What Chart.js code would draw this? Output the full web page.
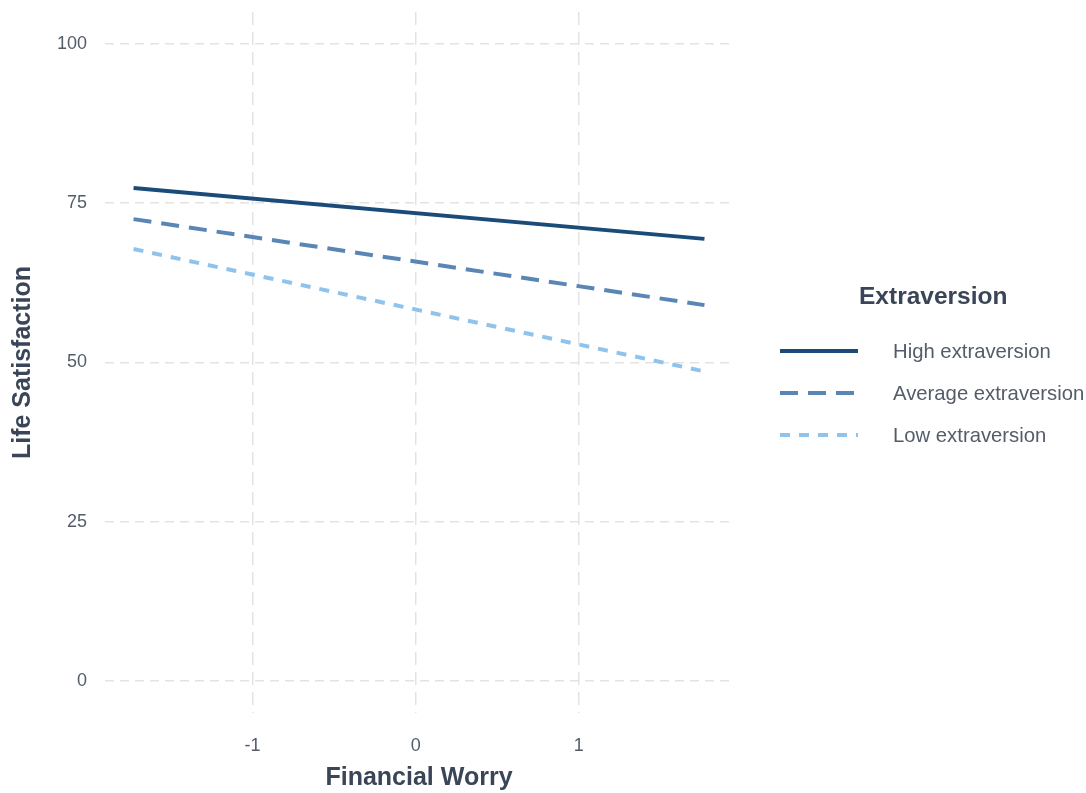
<!DOCTYPE html>
<html>
<head>
<meta charset="utf-8">
<script src="https://cdn.jsdelivr.net/npm/chart.js@4"></script>
<style>
html,body{margin:0;padding:0;background:#fff;}
#wrap{width:1086px;height:793px;position:relative;}
</style>
</head>
<body>
<div id="wrap"><canvas id="c" width="1086" height="793"></canvas></div>
<script>
// ---- Data ----
const xValues = [-1.73, 1.77];
const highExtraversion = [77.4, 69.4];
const averageExtraversion = [72.5, 59.0];
const lowExtraversion = [67.8, 48.6];
const seriesNames = ['High extraversion', 'Average extraversion', 'Low extraversion'];
const xTicks = [-1, 0, 1];
const yTicks = [0, 25, 50, 75, 100];
const xTitle = 'Financial Worry';
const yTitle = 'Life Satisfaction';
const legendTitle = 'Extraversion';

const FONT = "'Liberation Sans', Arial, Helvetica, sans-serif";
const TICK_COLOR = '#535d6a';
const TITLE_COLOR = '#3a4557';

function pts(ys){ return xValues.map((x,i)=>({x:x, y:ys[i]})); }

const datasets = [
  {label: seriesNames[0], data: pts(highExtraversion), borderColor:'#1a4b79', borderWidth:4, borderDash:[]},
  {label: seriesNames[1], data: pts(averageExtraversion), borderColor:'#5a86b6', borderWidth:4, borderDash:[18,10]},
  {label: seriesNames[2], data: pts(lowExtraversion), borderColor:'#8fc3ec', borderWidth:4, borderDash:[10,9]}
].map(d=>Object.assign(d,{fill:false,pointRadius:0,tension:0,showLine:true,borderCapStyle:'butt'}));

const legendPlugin = {
  id:'customLegend',
  afterDraw(chart){
    const ctx = chart.ctx;
    ctx.save();
    ctx.fillStyle = TITLE_COLOR;
    ctx.font = "bold 24.5px " + FONT;
    ctx.textBaseline = 'middle';
    ctx.textAlign = 'left';
    ctx.fillText(legendTitle, 859, 297);
    const ys = [351, 393, 435];
    chart.data.datasets.forEach((ds,i)=>{
      ctx.beginPath();
      ctx.strokeStyle = ds.borderColor;
      ctx.lineWidth = ds.borderWidth;
      ctx.lineCap = 'butt';
      ctx.setLineDash(ds.borderDash || []);
      ctx.moveTo(780, ys[i]);
      ctx.lineTo(858, ys[i]);
      ctx.stroke();
      ctx.setLineDash([]);
      ctx.fillStyle = TICK_COLOR;
      ctx.font = "20.3px " + FONT;
      ctx.fillText(ds.label, 893, ys[i] + 1);
    });
    ctx.restore();
  }
};

new Chart(document.getElementById('c'), {
  type:'scatter',
  data:{datasets},
  plugins:[legendPlugin],
  options:{
    responsive:false,
    animation:false,
    layout:{padding:{top:12,right:353,bottom:0,left:0}},
    plugins:{legend:{display:false},tooltip:{enabled:false}},
    scales:{
      x:{
        type:'linear', min:-1.905, max:1.945,
        afterBuildTicks(s){ s.ticks = xTicks.map(v=>({value:v})); },
        afterFit(s){ s.height = 80; s.paddingLeft = 0; s.paddingRight = 0; },
        grid:{color:'#e3e3e3', lineWidth:1.5, drawTicks:false},
        border:{display:false, dash:[13,7]},
        ticks:{padding:22, color:TICK_COLOR, font:{family:FONT,size:18}, maxRotation:0},
        title:{display:true, text:xTitle, color:TITLE_COLOR, font:{family:FONT,size:25,weight:'bold'}, padding:{top:0,bottom:0}}
      },
      y:{
        type:'linear', min:-5, max:105,
        afterBuildTicks(s){ s.ticks = yTicks.map(v=>({value:v})); },
        afterFit(s){ s.width = 105; s.paddingTop = 0; s.paddingBottom = 0; },
        grid:{color:'#e3e3e3', lineWidth:1.5, drawTicks:false},
        border:{display:false, dash:[9,6]},
        ticks:{padding:18, color:TICK_COLOR, font:{family:FONT,size:18}},
        title:{display:true, text:yTitle, color:TITLE_COLOR, font:{family:FONT,size:25,weight:'bold'}, padding:{top:8,bottom:0}}
      }
    }
  }
});
</script>
</body>
</html>
